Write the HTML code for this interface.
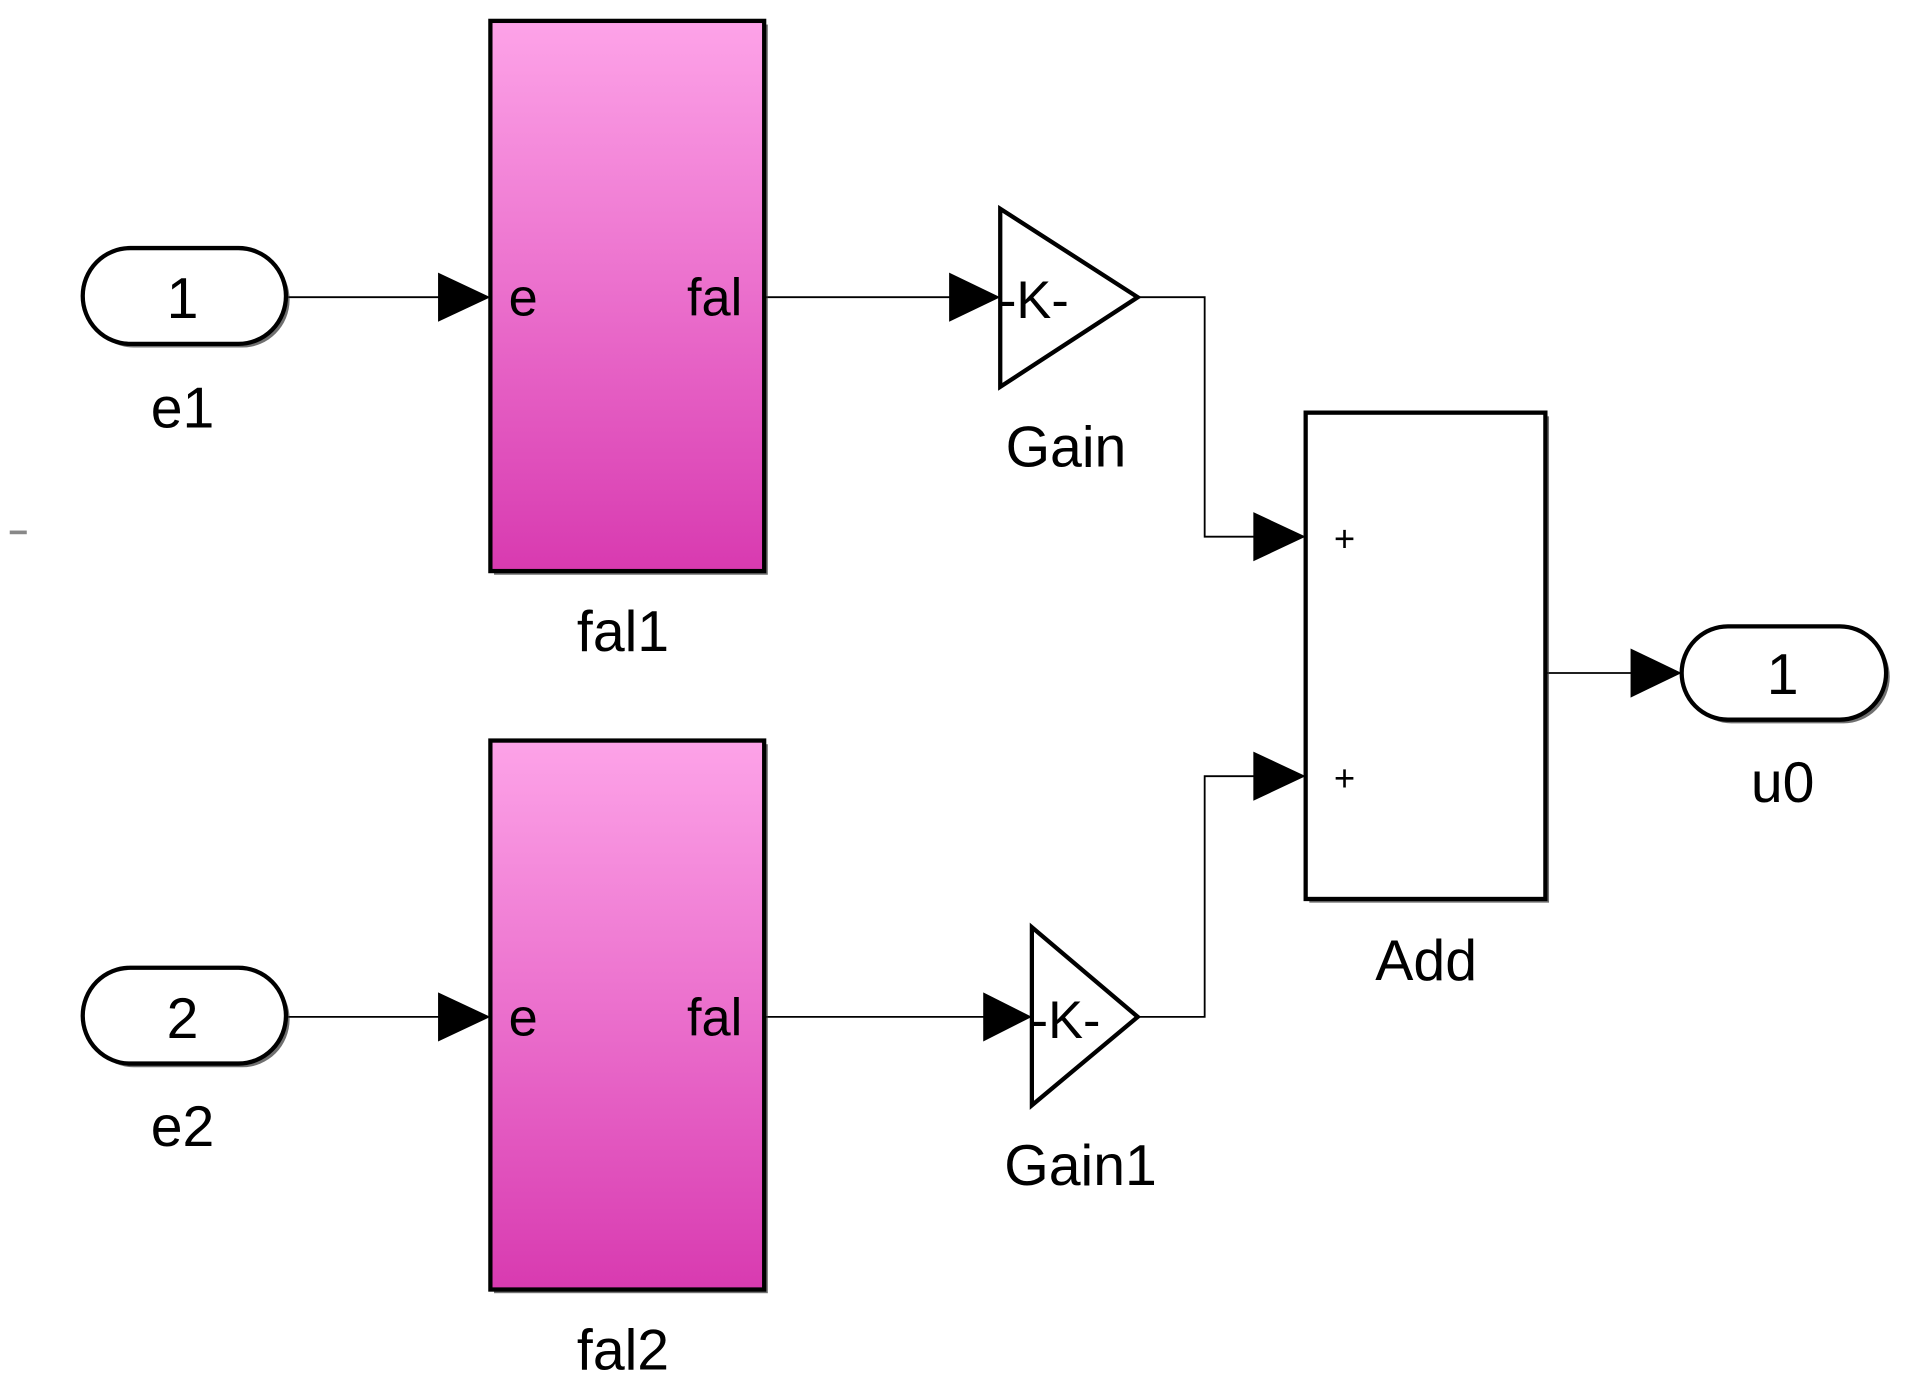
<!DOCTYPE html>
<html><head><meta charset="utf-8"><style>html,body{margin:0;padding:0;background:#fff;overflow:hidden}svg{display:block}</style></head>
<body>
<svg width="1908" height="1389" viewBox="0 0 1568 1131" preserveAspectRatio="none" xmlns="http://www.w3.org/2000/svg" font-family="Liberation Sans, Arial, sans-serif">
<defs>
<linearGradient id="g" x1="0" y1="0" x2="0" y2="1"><stop offset="0" stop-color="#fda3e8"/><stop offset="1" stop-color="#d83ab0"/></linearGradient>
</defs>
<rect x="8" y="432" width="14" height="3" fill="#888"/>
<g stroke="#000" stroke-width="1.5" fill="none">
<path d="M235 242H362"/><path d="M628 242H782"/><path d="M935 242H990V437H1032"/>
<path d="M235 828H362"/><path d="M628 828H810"/><path d="M935 828H990V632H1032"/>
<path d="M1270 548H1342"/>
</g>
<g fill="#000">
<polygon points="360,222 403,242 360,262"/><polygon points="780,222 822,242 780,262"/>
<polygon points="1030,417 1073,437 1030,457"/><polygon points="360,808 403,828 360,848"/>
<polygon points="808,808 848,828 808,848"/><polygon points="1030,612 1073,632 1030,652"/>
<polygon points="1340,528 1382,548 1340,568"/>
</g>
<g fill="#333" opacity="0.7">
<rect x="71" y="205" width="167" height="78" rx="39"/><rect x="71" y="791" width="167" height="78" rx="39"/>
<rect x="1385" y="513" width="168" height="76" rx="38"/>
<rect x="406" y="20" width="225" height="448"/><rect x="406" y="606" width="225" height="447"/>
<rect x="1076" y="339" width="197" height="396"/>
</g>
<g stroke="#000" stroke-width="3.5">
<rect x="68" y="202" width="167" height="78" rx="39" fill="#fff"/>
<rect x="68" y="788" width="167" height="78" rx="39" fill="#fff"/>
<rect x="1382" y="510" width="168" height="76" rx="38" fill="#fff"/>
<rect x="403" y="17" width="225" height="448" fill="url(#g)"/>
<rect x="403" y="603" width="225" height="447" fill="url(#g)"/>
<rect x="1073" y="336" width="197" height="396" fill="#fff"/>
<polygon points="822,170 822,315 935,242" fill="#fff"/>
<polygon points="848,755 848,900 935,828" fill="#fff"/>
</g>
<g font-size="47" text-anchor="middle" fill="#000">
<text x="150" y="259">1</text><text x="150" y="845">2</text><text x="1465" y="565">1</text>
<text x="150" y="348">e1</text><text x="150" y="933">e2</text>
<text x="512" y="530">fal1</text><text x="512" y="1115">fal2</text>
<text x="876" y="380">Gain</text><text x="888" y="965">Gain1</text>
<text x="1172" y="798">Add</text><text x="1465" y="653">u0</text>
</g>
<g font-size="43" fill="#000">
<text x="418" y="257">e</text><text x="610" y="257" text-anchor="end">fal</text>
<text x="418" y="843">e</text><text x="610" y="843" text-anchor="end">fal</text>
<text x="821" y="259">-K-</text><text x="847" y="845">-K-</text>
</g>
<g font-size="30" fill="#000" text-anchor="middle">
<text x="1105" y="449">+</text><text x="1105" y="644">+</text>
</g>
</svg>
</body></html>
